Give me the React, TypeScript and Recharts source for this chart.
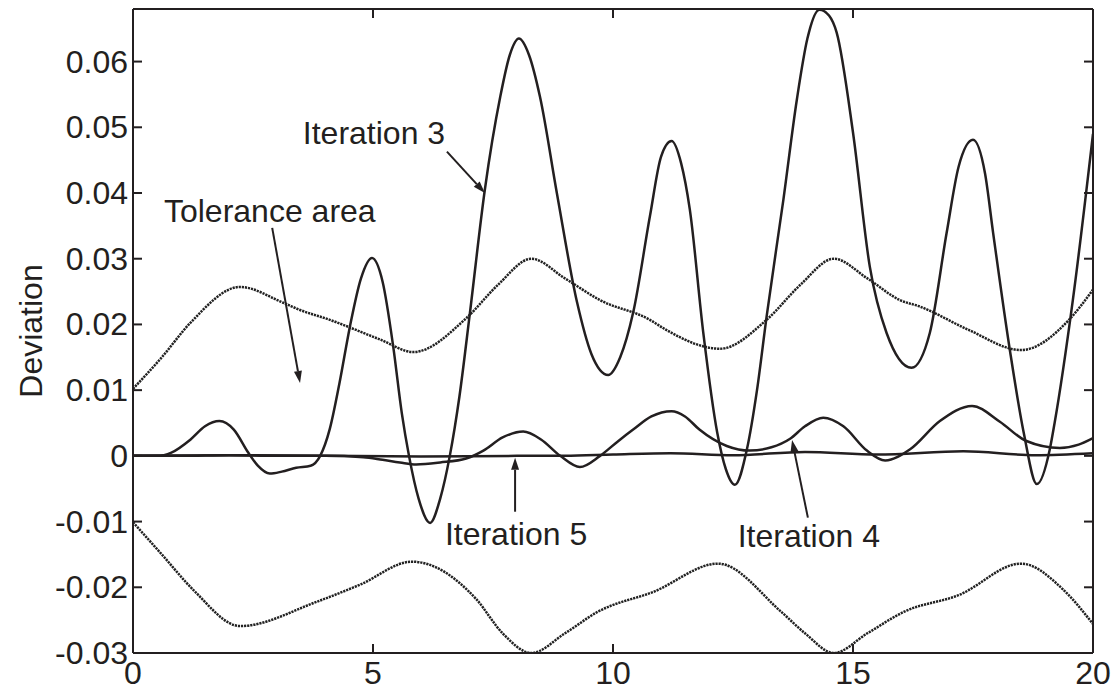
import React from 'react';
import {
  ComposedChart, Line, XAxis, YAxis, ReferenceLine, ReferenceDot,
} from 'recharts';

const INK = '#231f20';
const FONT = '"Liberation Sans", Arial, Helvetica, sans-serif';

// x ticks / y ticks
const xTicks = [0, 5, 10, 15, 20];
const yTicks = [-0.03, -0.02, -0.01, 0, 0.01, 0.02, 0.03, 0.04, 0.05, 0.06];

// Iteration 3
const iter3X = [0, 0.5, 0.8, 1.2, 1.5, 1.8, 2.1, 2.4, 2.6, 2.85, 3.1, 3.4, 3.7, 3.9, 4.1, 4.3, 4.52, 4.75, 4.98, 5.2, 5.42, 5.6, 5.75, 5.95, 6.19, 6.4, 6.6, 6.8, 7.02, 7.33, 7.65, 7.85, 8.04, 8.25, 8.48, 8.83, 9.25, 9.55, 9.9, 10.15, 10.42, 10.77, 11.0, 11.22, 11.42, 11.6, 11.88, 12.17, 12.35, 12.54, 12.79, 13.0, 13.2, 13.55, 13.83, 14.05, 14.3, 14.5, 14.66, 15.0, 15.35, 15.7, 16.22, 16.6, 16.95, 17.2, 17.5, 17.75, 17.92, 18.27, 18.56, 18.83, 19.1, 19.2, 19.58, 20];
const iter3Y = [0, 0, 0.0005, 0.0025, 0.0045, 0.0053, 0.004, 0.0005, -0.0015, -0.0027, -0.0024, -0.0018, -0.0015, 0, 0.0041, 0.011, 0.0197, 0.027, 0.0301, 0.0265, 0.0167, 0.0065, 0, -0.0065, -0.0102, -0.0065, 0, 0.009, 0.0218, 0.0405, 0.0546, 0.061, 0.0635, 0.061, 0.0546, 0.04, 0.0234, 0.0155, 0.0123, 0.015, 0.0218, 0.0365, 0.0455, 0.0479, 0.0445, 0.0375, 0.0188, 0.0036, -0.002, -0.0044, 0.001, 0.01, 0.0212, 0.039, 0.0542, 0.0635, 0.0679, 0.067, 0.0644, 0.0492, 0.0288, 0.0187, 0.0134, 0.0187, 0.0339, 0.044, 0.0481, 0.043, 0.0339, 0.016, 0.0034, -0.0043, 0.001, 0.005, 0.0237, 0.049];

// Iteration 4
const iter4X = [0, 1, 2, 3, 4, 4.8, 5.2, 5.56, 5.9, 6.4, 6.94, 7.3, 7.7, 8.13, 8.5, 8.9, 9.31, 9.73, 10.1, 10.42, 10.8, 11.22, 11.5, 11.8, 12.37, 12.85, 13.3, 13.69, 14.0, 14.38, 14.8, 15.29, 15.67, 16.19, 16.81, 17.48, 18.06, 18.6, 19.31, 19.7, 20];
const iter4Y = [0, 0, 0.0001, 0, 0, -0.0002, -0.0006, -0.001, -0.0013, -0.001, -0.0004, 0.0008, 0.0028, 0.0037, 0.0025, 0, -0.0017, 0, 0.0022, 0.004, 0.006, 0.0068, 0.006, 0.004, 0.0015, 0.0008, 0.0013, 0.0026, 0.0045, 0.0058, 0.0045, 0.0008, -0.0007, 0.001, 0.0053, 0.0076, 0.0052, 0.0023, 0.0012, 0.0017, 0.0027];

// Iteration 5
const iter5X = [0, 2, 4, 6, 8, 9, 10, 11.2, 12.5, 14, 15.5, 17.3, 18.8, 20];
const iter5Y = [0, 0.0001, 0, -0.0001, 0, 0, 0.0002, 0.0004, 0.0001, 0.0006, 0.0002, 0.0007, 0.0001, 0.0004];

// Tolerance area, upper bound
const tolUpX = [0, 0.6, 1.19, 2.23, 3.13, 3.48, 4.1, 5.15, 5.84, 6.95, 7.6, 8.3, 9.0, 9.73, 10.77, 11.1, 12.23, 13.2, 13.9, 14.6, 15.3, 15.98, 16.4, 17.4, 18.5, 19.5, 20];
const tolUpY = [0.0102, 0.015, 0.0202, 0.0257, 0.0233, 0.0222, 0.0207, 0.0177, 0.0158, 0.021, 0.026, 0.03, 0.027, 0.0237, 0.0207, 0.0192, 0.0163, 0.0207, 0.026, 0.03, 0.027, 0.0237, 0.0227, 0.0192, 0.0161, 0.0207, 0.0253];

// Tolerance area, lower bound
const tolLoX = [0, 0.6, 1.27, 2.23, 3.83, 4.73, 5.81, 7.15, 7.7, 8.3, 9.0, 9.69, 10.84, 12.19, 13.5, 14.0, 14.6, 15.3, 16.07, 17.2, 18.5, 19.4, 20];
const tolLoY = [-0.0101, -0.015, -0.0205, -0.0259, -0.0222, -0.0196, -0.0161, -0.0218, -0.027, -0.03, -0.027, -0.0237, -0.0207, -0.0164, -0.0237, -0.027, -0.03, -0.027, -0.0237, -0.0212, -0.0164, -0.0205, -0.0256];

// annotations: text position, arrow tail and arrow tip (data coords)
const notes = [
  { text: 'Iteration 3', tx: 5.02, ty: 0.0492, ax: 6.54, ay: 0.0463, bx: 7.33, by: 0.04 },
  { text: 'Tolerance area', tx: 2.85, ty: 0.0372, ax: 2.9, ay: 0.0347, bx: 3.48, by: 0.0111 },
  { text: 'Iteration 5', tx: 7.98, ty: -0.0119, ax: 7.96, ay: -0.0085, bx: 7.96, by: -0.0003 },
  { text: 'Iteration 4', tx: 14.08, ty: -0.0122, ax: 14.06, ay: -0.0094, bx: 13.73, by: 0.0024 },
];

const zip = (xs: number[], ys: number[]) => xs.map((x, i) => ({ x, y: ys[i] }));

const iter3 = zip(iter3X, iter3Y);
const iter4 = zip(iter4X, iter4Y);
const iter5 = zip(iter5X, iter5Y);
const tolUp = zip(tolUpX, tolUpY);
const tolLo = zip(tolLoX, tolLoY);

const TICK = 9;

const Arrow = (props: any) => {
  const { x1, y1, x2, y2 } = props;
  if (x1 == null || x2 == null) return null;
  const ang = Math.atan2(y2 - y1, x2 - x1);
  const len = 12;
  const half = 4;
  const bx = x2 - len * Math.cos(ang);
  const by = y2 - len * Math.sin(ang);
  const px = -Math.sin(ang) * half;
  const py = Math.cos(ang) * half;
  return (
    <g>
      <line x1={x1} y1={y1} x2={bx} y2={by} stroke={INK} strokeWidth={2} />
      <polygon points={`${x2},${y2} ${bx + px},${by + py} ${bx - px},${by - py}`} fill={INK} />
    </g>
  );
};

const NoteText = (text: string) => (props: any) => (
  <text x={props.cx} y={props.cy} textAnchor="middle" dominantBaseline="central"
    fontSize={32} fontFamily={FONT} fill={INK}>{text}</text>
);

// tick renderers: label plus an inward tick mark
const LeftTick = (props: any) => {
  const { x, y, payload } = props;
  return (
    <g>
      <line x1={x + 5} y1={y} x2={x + 5 + TICK} y2={y} stroke={INK} strokeWidth={2} />
      <text x={x} y={y} textAnchor="end" dominantBaseline="central" fontSize={32}
        fontFamily={FONT} fill={INK}>{payload.value}</text>
    </g>
  );
};

const BottomTick = (props: any) => {
  const { x, y, payload } = props;
  return (
    <g>
      <line x1={x} y1={y - 8} x2={x} y2={y - 8 - TICK} stroke={INK} strokeWidth={2} />
      <text x={x} y={y} dy="0.72em" textAnchor="middle" fontSize={32}
        fontFamily={FONT} fill={INK}>{payload.value}</text>
    </g>
  );
};

const TopTick = (props: any) => (
  <line x1={props.x} y1={props.y} x2={props.x} y2={props.y + TICK} stroke={INK} strokeWidth={2} />
);

const RightTick = (props: any) => (
  <line x1={props.x} y1={props.y} x2={props.x - TICK} y2={props.y} stroke={INK} strokeWidth={2} />
);

const DeviationLabel = (props: any) => {
  const vb = props.viewBox || {};
  const cx = 31;
  const cy = (vb.y ?? 9) + (vb.height ?? 644) / 2;
  return (
    <text x={cx} y={cy} transform={`rotate(-90, ${cx}, ${cy})`} textAnchor="middle"
      dominantBaseline="central" fontSize={32} fontFamily={FONT} fill={INK}>Deviation</text>
  );
};

const axisLine = { stroke: INK, strokeWidth: 2 };

const App: React.FC = () => {
  return (
    <div style={{ position: 'absolute', left: 0, top: 0, width: 1117, height: 692, background: '#fff' }}>
      <ComposedChart width={1117} height={692} margin={{ top: 8, right: 23, bottom: 0, left: 0 }}>
        <XAxis xAxisId="bottom" dataKey="x" type="number" domain={[0, 20]} ticks={xTicks} interval={0}
          allowDataOverflow height={39} tickSize={0} tickMargin={8}
          axisLine={axisLine} tickLine={false} tick={BottomTick} />
        <XAxis xAxisId="top" orientation="top" dataKey="x" type="number" domain={[0, 20]} ticks={xTicks}
          interval={0} allowDataOverflow height={1} tickSize={0} tickMargin={0}
          axisLine={axisLine} tickLine={false} tick={TopTick} />
        <YAxis yAxisId="left" type="number" domain={[-0.03, 0.068]} ticks={yTicks} interval={0}
          allowDataOverflow width={133} tickSize={0} tickMargin={5}
          axisLine={axisLine} tickLine={false} tick={LeftTick} label={{ content: DeviationLabel }} />
        <YAxis yAxisId="right" orientation="right" type="number" domain={[-0.03, 0.068]} ticks={yTicks}
          interval={0} allowDataOverflow width={1} tickSize={0} tickMargin={0}
          axisLine={axisLine} tickLine={false} tick={RightTick} />

        <Line xAxisId="top" yAxisId="right" data={tolUp} dataKey="y" stroke="none" dot={false}
          activeDot={false} isAnimationActive={false} legendType="none" />

        <Line xAxisId="bottom" yAxisId="left" data={tolUp} dataKey="y" type="monotone" stroke="#222"
          strokeWidth={2.5} strokeDasharray="2.2 0.9" dot={false} activeDot={false} isAnimationActive={false} />
        <Line xAxisId="bottom" yAxisId="left" data={tolLo} dataKey="y" type="monotone" stroke="#222"
          strokeWidth={2.5} strokeDasharray="2.2 0.9" dot={false} activeDot={false} isAnimationActive={false} />
        <Line xAxisId="bottom" yAxisId="left" data={iter5} dataKey="y" type="monotone" stroke={INK}
          strokeWidth={2.5} dot={false} activeDot={false} isAnimationActive={false} />
        <Line xAxisId="bottom" yAxisId="left" data={iter4} dataKey="y" type="monotone" stroke={INK}
          strokeWidth={2.5} dot={false} activeDot={false} isAnimationActive={false} />
        <Line xAxisId="bottom" yAxisId="left" data={iter3} dataKey="y" type="monotone" stroke={INK}
          strokeWidth={2.5} dot={false} activeDot={false} isAnimationActive={false} />

        {notes.map((n) => (
          <ReferenceLine key={`a-${n.text}`} xAxisId="bottom" yAxisId="left"
            segment={[{ x: n.ax, y: n.ay }, { x: n.bx, y: n.by }]} shape={Arrow} />
        ))}
        {notes.map((n) => (
          <ReferenceDot key={`t-${n.text}`} xAxisId="bottom" yAxisId="left" x={n.tx} y={n.ty}
            r={0} shape={NoteText(n.text)} />
        ))}
      </ComposedChart>
    </div>
  );
};

export default App;
